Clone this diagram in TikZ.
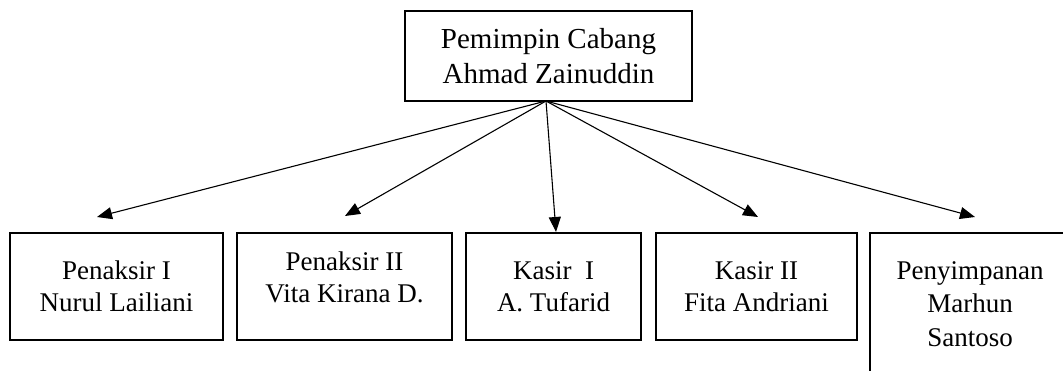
\documentclass[tikz,border=0pt]{standalone}
\usepackage{fontspec}
\setmainfont{Liberation Serif}
\usetikzlibrary{arrows.meta}
\begin{document}
\begin{tikzpicture}[x=1pt,y=-1pt,
  box/.style={draw,line width=2.6pt,rectangle,inner sep=0pt,outer sep=0pt,align=center,
    font=\fontsize{27}{32}\selectfont},
  topbox/.style={box,font=\fontsize{29}{35}\selectfont},
  txt/.style={inner sep=0pt,align=center,font=\fontsize{27}{32}\selectfont},
  conn/.style={line width=1.1pt,-{Triangle[length=15pt,width=12pt]}}]
\clip (0,0) rectangle (1063,371);
\fill[white] (0,0) rectangle (1063,371);
\node[topbox,minimum width=287pt,minimum height=90pt] (top) at (548.5,56) {Pemimpin Cabang\\Ahmad Zainuddin};
\node[box,minimum width=213pt,minimum height=107pt] (b1) at (116.5,286.5) {Penaksir I\\Nurul Lailiani};
\node[box,minimum width=215pt,minimum height=107pt] (b2) at (344.5,286.5) {};
\node[txt] (t2) at (344.5,277.5) {Penaksir II\\Vita Kirana D.};
\node[box,minimum width=175pt,minimum height=107pt] (b3) at (553.5,286.5) {Kasir\ \ I\\A. Tufarid};
\node[box,minimum width=201pt,minimum height=107pt] (b4) at (756.5,286.5) {Kasir II\\Fita Andriani};
\node[box,minimum width=200pt,minimum height=142pt,font=\fontsize{27}{33.5}\selectfont] (b5) at (970,304) {Penyimpanan\\Marhun\\Santoso};
\coordinate (src) at ([xshift=-2.5pt]top.south);
\coordinate (e1) at ([xshift=-19.5pt,yshift=16pt]b1.north);
\coordinate (e2) at ([xshift=0.5pt,yshift=17pt]b2.north);
\coordinate (e3) at ([xshift=2.5pt,yshift=1pt]b3.north);
\coordinate (e4) at ([xshift=1.5pt,yshift=16pt]b4.north);
\coordinate (e5) at ([xshift=5pt,yshift=16pt]b5.north);
\foreach \e in {e1,e2,e3,e4,e5} \draw[conn] (src) -- (\e);
\end{tikzpicture}
\end{document}
